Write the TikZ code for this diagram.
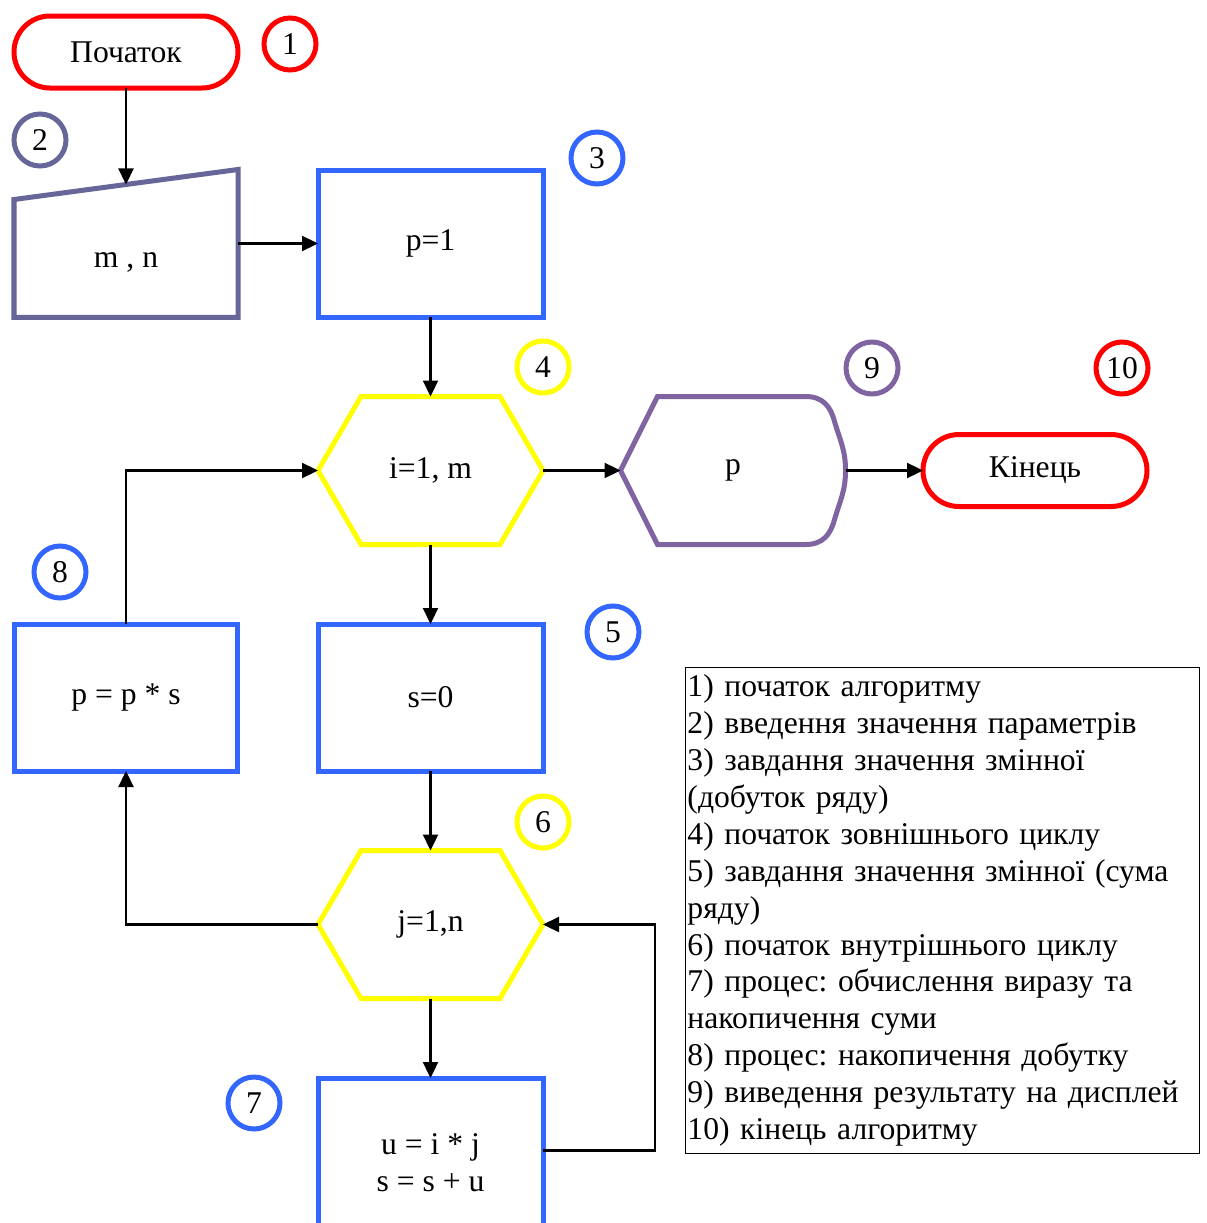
\documentclass[tikz,border=0pt]{standalone}
\usepackage{fontspec}
\setmainfont{Liberation Serif}
\usetikzlibrary{matrix, graphs, arrows.meta, calc, positioning}
\frenchspacing

\definecolor{termred}{HTML}{FF0000}
\definecolor{inslate}{HTML}{666699}
\definecolor{procblue}{HTML}{3366FF}
\definecolor{loopyellow}{HTML}{FFFF00}
\definecolor{outpurple}{HTML}{8064A2}

\tikzset{
    >={Triangle[length=0.32cm,width=0.3cm]},
    terminal/.style={anchor=center, draw=termred, line width=0.1cm, rounded corners=0.72cm, minimum width=4.48cm, minimum height=1.44cm},
    procbox/.style={anchor=center, draw=procblue, line width=0.1cm, minimum width=4.5cm, minimum height=2.94cm},
    shapebox/.style={anchor=center, outer sep=0pt, minimum width=4.5cm, minimum height=2.96cm},
    outline/.style={line width=0.1cm},
    numcirc/.style={circle, line width=0.1cm, minimum size=1.04cm, inner sep=0pt},
}

\begin{document}
\begin{tikzpicture}[font=\fontsize{18}{21}\selectfont]
        \useasboundingbox (0,0) rectangle (24.12,-24.46);

        \matrix (chart) [anchor=north west, inner sep=0pt, outer sep=0pt, row sep=1.54cm, column sep=1.5cm] at (0.23,-0.27) {
            \node[terminal] (start) {Початок} ; \\
            \node[shapebox, minimum width=4.48cm] (m) {} ; &
            \node[procbox] (p1) {p=1} ; \\
            &
            \node[shapebox] (hex4) {i=1, m} ; &
            \node[shapebox] (disp) {p} ; &
            \node[terminal] (finish) {Кінець} ; \\
            \node[procbox, minimum width=4.46cm] (p8) {p = p * s} ; &
            \node[procbox] (s0) {s=0} ; \\
            &
            \node[shapebox] (hex6) {j=1,n} ; \\
            &
            \node[procbox, minimum height=3.4cm, align=center] (b7) {u = i * j\\s = s + u} ; \\
        } ;

        \draw[outline, draw=inslate] (m.south west) -- (m.south east) -- (m.north east) -- ([yshift=-0.6cm]m.north west) -- cycle;
        \foreach \h in {hex4,hex6}
            \draw[outline, draw=loopyellow] (\h.west) -- ([xshift=0.86cm]\h.north west) -- ([xshift=-0.86cm]\h.north east) -- (\h.east) -- ([xshift=-0.86cm]\h.south east) -- ([xshift=0.86cm]\h.south west) -- cycle;
        \draw[outline, draw=outpurple] (disp.west) -- ([xshift=0.74cm]disp.north west) -- ([xshift=-0.8cm]disp.north east)
            .. controls ([xshift=-0.45cm]disp.north east) and ($(disp.north east)+(-0.3,-0.2)$) .. ($(disp.north east)+(-0.22,-0.5)$)
            .. controls ($(disp.north east)+(-0.1,-0.9)$) and ([yshift=0.4cm]disp.east) .. (disp.east)
            .. controls ([yshift=-0.4cm]disp.east) and ($(disp.south east)+(-0.1,0.9)$) .. ($(disp.south east)+(-0.22,0.5)$)
            .. controls ($(disp.south east)+(-0.3,0.2)$) and ([xshift=-0.45cm]disp.south east) .. ([xshift=-0.8cm]disp.south east)
            -- ([xshift=0.74cm]disp.south west) -- cycle;

        \node (mtext) at ([yshift=-0.38cm]m.center) {m , n};
        \coordinate (mtop) at ($([yshift=-0.6cm]m.north west)!0.5!(m.north east)$);
        \coordinate (b7out) at ([yshift=-1.45cm]b7.north east);

        \node[numcirc, draw=termred] (c1) at (5.80,-0.88) {1};
        \node[numcirc, draw=inslate] (c2) at (0.80,-2.80) {2};
        \node[numcirc, draw=procblue] (c3) at (11.94,-3.16) {3};
        \node[numcirc, draw=loopyellow] (c4) at (10.86,-7.34) {4};
        \node[numcirc, draw=procblue] (c5) at (12.26,-12.64) {5};
        \node[numcirc, draw=loopyellow] (c6) at (10.86,-16.44) {6};
        \node[numcirc, draw=procblue] (c7) at (5.08,-22.06) {7};
        \node[numcirc, draw=procblue] (c8) at (1.20,-11.44) {8};
        \node[numcirc, draw=outpurple] (c9) at (17.44,-7.36) {9};
        \node[numcirc, draw=termred] (c10) at (22.44,-7.36) {10};

        \node[draw, line width=0.8pt, anchor=north west, inner xsep=1pt, inner ysep=4pt, text width=10.21cm, align=left] (legend) at (13.70,-13.34) {%
            1) початок алгоритму\\
            2) введення значення параметрів\\
            3) завдання значення змінної\\
            (добуток ряду)\\
            4) початок зовнішнього циклу\\
            5) завдання значення змінної (сума\\
            ряду)\\
            6) початок внутрішнього циклу\\
            7) процес: обчислення виразу та\\
            накопичення суми\\
            8) процес: накопичення добутку\\
            9) виведення результату на дисплей\\
            10) кінець алгоритму};

        \graph[use existing nodes, edges={line width=1.3pt}] {
            start -> mtop;
            m -> p1 -> hex4 -> disp -> finish;
            hex4 -> s0 -> hex6 -> b7;
            p8 ->[to path={|- (\tikztotarget)}] hex4;
            hex6 ->[to path={-| (\tikztotarget)}] p8;
            b7out ->[to path={-- ++(2.24,0) |- (\tikztotarget)}] hex6;
        } ;

    \end{tikzpicture}
\end{document}
